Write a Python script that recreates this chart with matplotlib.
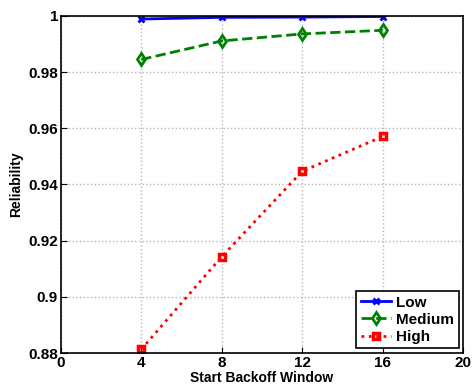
import matplotlib
matplotlib.use("Agg")
import matplotlib.pyplot as plt

x = [4, 8, 12, 16]
low = [0.9989, 0.9995, 0.9996, 0.9998]
medium = [0.9845, 0.9911, 0.9936, 0.9949]
high = [0.8813, 0.9143, 0.9447, 0.9571]
xticks = [0, 4, 8, 12, 16, 20]
yticks = [0.88, 0.9, 0.92, 0.94, 0.96, 0.98, 1]

plt.rcParams['font.family'] = ['Liberation Sans', 'DejaVu Sans']
fig = plt.figure(figsize=(4.75, 3.89), dpi=100)
ax = fig.add_axes([0.128, 0.0925, 0.847, 0.8665])

ax.plot(x, low, color='#0000ff', linestyle='-', linewidth=2, marker='x', markersize=4, markeredgewidth=2, label='Low')
ax.plot(x, medium, color='#008000', linestyle='--', linewidth=2, marker='d', markersize=6, markerfacecolor='none', markeredgewidth=2, label='Medium')
ax.plot(x, high, color='#ff0000', linestyle=':', linewidth=2, marker='s', markersize=5, markerfacecolor='none', markeredgewidth=2.5, label='High')

ax.set_xlim(0, 20)
ax.set_ylim(0.88, 1)
ax.set_xticks(xticks)
ax.set_yticks(yticks)
ax.set_yticklabels([('%g' % v) for v in yticks])
ax.grid(True, linestyle=':', color='#b8b8b8', linewidth=1)
ax.tick_params(direction='in', labelsize=11, length=4, pad=2)
for lab in ax.get_xticklabels() + ax.get_yticklabels():
    lab.set_fontweight('bold')
for s in ax.spines.values():
    s.set_linewidth(1.2)

ax.set_xlabel('Start Backoff Window', fontsize=10, fontweight='bold', labelpad=1)
ax.set_ylabel('Reliability', fontsize=10, fontweight='bold', labelpad=4)

leg = ax.legend(loc='lower right', fancybox=False, edgecolor='black', framealpha=1,
                prop={'weight': 'bold', 'size': 11}, handlelength=2.0, borderpad=0.3,
                labelspacing=0.2, handletextpad=0.3, borderaxespad=0.3)
leg.get_frame().set_linewidth(1.2)

fig.savefig('out.png', dpi=100)
